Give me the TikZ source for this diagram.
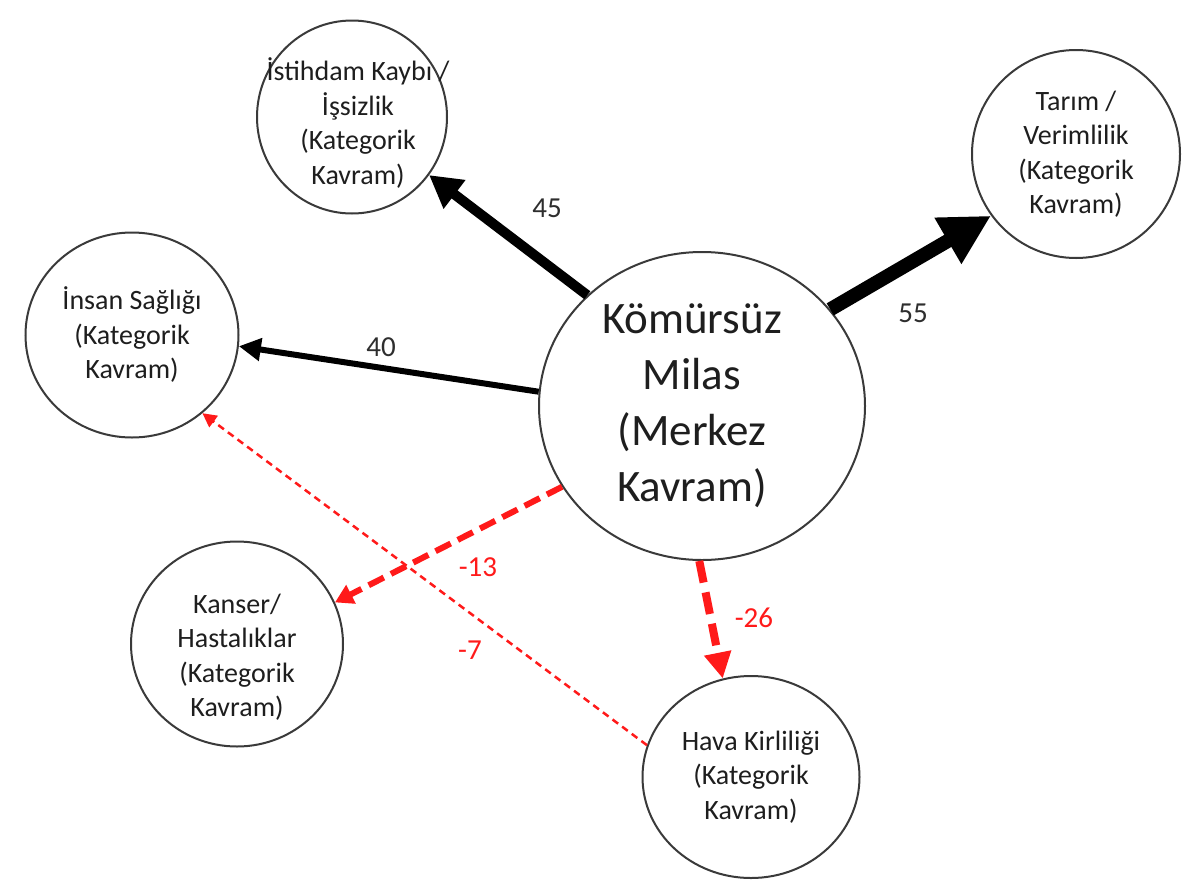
\documentclass[tikz,border=0pt]{standalone}
\usepackage{fontspec}
\setmainfont{Carlito}
\usetikzlibrary{arrows.meta,shapes.geometric}
\definecolor{ink}{HTML}{1E1E1E}
\definecolor{rim}{HTML}{3A3A3A}
\definecolor{redline}{HTML}{FF1A1A}
\definecolor{lblgray}{HTML}{2E2E2E}
\begin{document}
\begin{tikzpicture}[x=1pt,y=-1pt,
  bub/.style={ellipse, draw=rim, line width=2pt, inner sep=0pt},
  txt/.style={align=center, text=ink, font=\fontsize{28}{34.5}\selectfont},
  bigtxt/.style={align=center, text=ink, font=\fontsize{45}{56}\selectfont},
  num/.style={text=lblgray, font=\fontsize{29}{34}\selectfont},
  rnum/.style={text=redline, font=\fontsize{29}{34}\selectfont},
  athick/.style={draw=black, line width=14pt, -{Triangle[length=50pt,width=50pt]}},
  amid/.style={draw=black, line width=10pt, -{Triangle[length=32pt,width=34pt]}},
  athin/.style={draw=black, line width=6pt, -{Triangle[length=22pt,width=22pt]}},
  rdash/.style={draw=redline, line width=6pt, dash pattern=on 17pt off 8pt, -{Triangle[length=18pt,width=20pt]}},
  rdashb/.style={draw=redline, line width=8pt, dash pattern=on 22pt off 10pt, -{Triangle[length=26pt,width=26pt]}},
  rdots/.style={draw=redline, line width=2.5pt, dash pattern=on 7pt off 5pt, -{Triangle[length=14pt,width=14pt]}}
]
\useasboundingbox (0,0) rectangle (1189,884);
\fill[white] (0,0) rectangle (1189,884);

\node[bub, minimum width=326pt, minimum height=308pt,
      label={[bigtxt, xshift=-10pt]center:{Kömürsüz\\Milas\\(Merkez\\Kavram)}}] (c) at (702,406) {};
\node[bub, minimum width=190pt, minimum height=193pt,
      label={[txt, yshift=-6pt, xshift=6pt]center:{İstihdam Kaybı /\\İşsizlik\\(Kategorik\\Kavram)}}] (ist) at (352,117) {};
\node[bub, minimum width=208pt, minimum height=208pt,
      label={[txt]center:{Tarım /\\Verimlilik\\(Kategorik\\Kavram)}}] (tar) at (1076,154) {};
\node[bub, minimum width=213pt, minimum height=205pt,
      label={[txt]center:{İnsan Sağlığı\\(Kategorik\\Kavram)}}] (ins) at (132,335) {};
\node[bub, minimum width=212pt, minimum height=205pt,
      label={[txt, yshift=-13pt]center:{Kanser/\\Hastalıklar\\(Kategorik\\Kavram)}}] (kan) at (237,644) {};
\node[bub, minimum width=217pt, minimum height=202pt,
      label={[txt]center:{Hava Kirliliği\\(Kategorik\\Kavram)}}] (hav) at (751,777) {};

\draw[amid] (c.136) -- (ist.-37);
\draw[athick] (c.37.5) -- (tar.216);
\draw[athin] (c.175.4) -- (ins.-6.6);
\draw[rdash] (c.210) -- (kan.23.8);
\draw[rdashb] (c.269) -- (hav.106.5);
\draw[rdots] (hav.163.7) -- (ins.-48.7);

\node[num] (l45) at (547,208) {45};
\node[num] (l55) at (913,313) {55};
\node[num] (l40) at (381,347) {40};
\node[rnum] (l13) at (478,567) {-13};
\node[rnum] (l26) at (754,618) {-26};
\node[rnum] (l7) at (470,650) {-7};
\end{tikzpicture}
\end{document}
